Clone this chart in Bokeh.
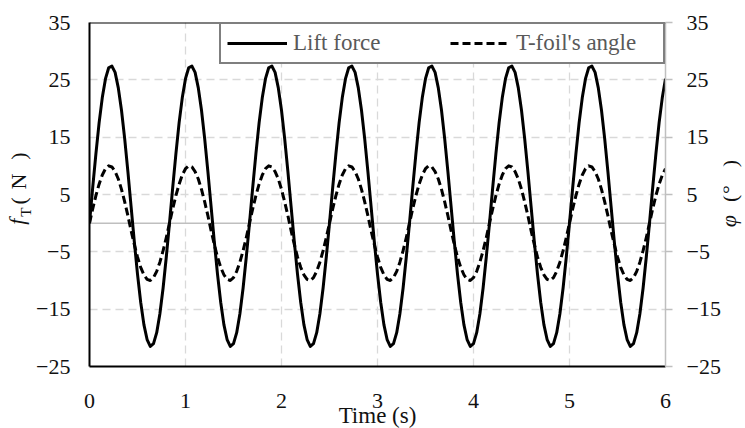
import numpy as np
from math import pi

from bokeh.plotting import figure
from bokeh.layouts import row
from bokeh.models import (Range1d, LinearAxis, FixedTicker, Span, Label,
                          Legend, LegendItem)
from bokeh.embed import file_html
from bokeh.resources import INLINE

# ---- data -------------------------------------------------------------
# sampling times (s), 1/30 s apart from 0 to 6 s
time_s = np.round(np.arange(181) / 30.0, 4)

# lift force on the T-foil (N)
lift_force = [
    0.0, 6.2, 12.1, 17.5, 21.9, 25.2, 27.1, 27.4, 26.3, 23.6, 19.7, 14.7, 9.0,
    2.9, -3.2, -8.9, -13.8, -17.7, -20.3, -21.5, -21.0, -19.1, -15.8, -11.3, -5.9,
    0.0, 6.2, 12.1, 17.5, 21.9, 25.2, 27.1, 27.4, 26.3, 23.6, 19.7, 14.7, 9.0,
    2.9, -3.2, -8.9, -13.8, -17.7, -20.3, -21.5, -21.0, -19.1, -15.8, -11.3, -5.9,
    0.0, 6.2, 12.1, 17.5, 21.9, 25.2, 27.1, 27.4, 26.3, 23.6, 19.7, 14.7, 9.0,
    2.9, -3.2, -8.9, -13.8, -17.7, -20.3, -21.5, -21.0, -19.1, -15.8, -11.3, -5.9,
    0.0, 6.2, 12.1, 17.5, 21.9, 25.2, 27.1, 27.4, 26.3, 23.6, 19.7, 14.7, 9.0,
    2.9, -3.2, -8.9, -13.8, -17.7, -20.3, -21.5, -21.0, -19.1, -15.8, -11.3, -5.9,
    0.0, 6.2, 12.1, 17.5, 21.9, 25.2, 27.1, 27.4, 26.3, 23.6, 19.7, 14.7, 9.0,
    2.9, -3.2, -8.9, -13.8, -17.7, -20.3, -21.5, -21.0, -19.1, -15.8, -11.3, -5.9,
    0.0, 6.2, 12.1, 17.5, 21.9, 25.2, 27.1, 27.4, 26.3, 23.6, 19.7, 14.7, 9.0,
    2.9, -3.2, -8.9, -13.8, -17.7, -20.3, -21.5, -21.0, -19.1, -15.8, -11.3, -5.9,
    0.0, 6.2, 12.1, 17.5, 21.9, 25.2, 27.1, 27.4, 26.3, 23.6, 19.7, 14.7, 9.0,
    2.9, -3.2, -8.9, -13.8, -17.7, -20.3, -21.5, -21.0, -19.1, -15.8, -11.3, -5.9,
    0.0, 6.2, 12.1, 17.5, 21.9, 25.2,
]

# T-foil pitch angle (deg)
tfoil_angle = [
    0.0, 2.5, 4.8, 6.8, 8.4, 9.5, 10.0, 9.8, 9.0, 7.7, 5.9, 3.7, 1.3,
    -1.3, -3.7, -5.9, -7.7, -9.0, -9.8, -10.0, -9.5, -8.4, -6.8, -4.8, -2.5,
    0.0, 2.5, 4.8, 6.8, 8.4, 9.5, 10.0, 9.8, 9.0, 7.7, 5.9, 3.7, 1.3,
    -1.3, -3.7, -5.9, -7.7, -9.0, -9.8, -10.0, -9.5, -8.4, -6.8, -4.8, -2.5,
    0.0, 2.5, 4.8, 6.8, 8.4, 9.5, 10.0, 9.8, 9.0, 7.7, 5.9, 3.7, 1.3,
    -1.3, -3.7, -5.9, -7.7, -9.0, -9.8, -10.0, -9.5, -8.4, -6.8, -4.8, -2.5,
    0.0, 2.5, 4.8, 6.8, 8.4, 9.5, 10.0, 9.8, 9.0, 7.7, 5.9, 3.7, 1.3,
    -1.3, -3.7, -5.9, -7.7, -9.0, -9.8, -10.0, -9.5, -8.4, -6.8, -4.8, -2.5,
    0.0, 2.5, 4.8, 6.8, 8.4, 9.5, 10.0, 9.8, 9.0, 7.7, 5.9, 3.7, 1.3,
    -1.3, -3.7, -5.9, -7.7, -9.0, -9.8, -10.0, -9.5, -8.4, -6.8, -4.8, -2.5,
    0.0, 2.5, 4.8, 6.8, 8.4, 9.5, 10.0, 9.8, 9.0, 7.7, 5.9, 3.7, 1.3,
    -1.3, -3.7, -5.9, -7.7, -9.0, -9.8, -10.0, -9.5, -8.4, -6.8, -4.8, -2.5,
    0.0, 2.5, 4.8, 6.8, 8.4, 9.5, 10.0, 9.8, 9.0, 7.7, 5.9, 3.7, 1.3,
    -1.3, -3.7, -5.9, -7.7, -9.0, -9.8, -10.0, -9.5, -8.4, -6.8, -4.8, -2.5,
    0.0, 2.5, 4.8, 6.8, 8.4, 9.5,
]

x_ticks = [0, 1, 2, 3, 4, 5, 6]
y_ticks = [-25, -15, -5, 5, 15, 25, 35]
y_tick_labels = ["\u221225", "\u221215", "\u22125", "5", "15", "25", "35"]

series_labels = ["Lift force", "T-foil's angle"]

FONT = "Liberation Serif"
TICK_SIZE = "22px"
TEXT_SIZE = "23px"
TEXT_COLOR = "#111111"
GRID_GREY = "#d9d9d9"
AXIS_GREY = "#bfbfbf"

# page geometry (px)
PAGE_H = 428
FRAME_W, FRAME_H = 576, 344
TOP, BOTTOM = 22, 62
LEFT_STRIP, RIGHT_STRIP = 33, 23
STRIP_LIFT = 23          # the strips' plotting area sits this much lower
Y_MIN, Y_MAX = -25, 35

# value range for the title strips, on the same vertical scale as the frame
units_per_px = (Y_MAX - Y_MIN) / FRAME_H
strip_range = (Y_MIN - (BOTTOM + STRIP_LIFT) * units_per_px,
               Y_MAX + (TOP - STRIP_LIFT) * units_per_px)

# ---- main chart -------------------------------------------------------
p = figure(title=None, frame_width=FRAME_W, frame_height=FRAME_H,
           min_border_left=89 - LEFT_STRIP, min_border_right=57,
           min_border_top=TOP, min_border_bottom=BOTTOM,
           x_range=Range1d(0, 6), y_range=Range1d(Y_MIN, Y_MAX),
           output_backend="svg", toolbar_location=None)
p.outline_line_color = None
p.background_fill_color = "white"
p.border_fill_color = "white"
p.extra_y_ranges = {"right": Range1d(Y_MIN, Y_MAX)}

# bottom axis: time
xa = p.xaxis[0]
xa.ticker = FixedTicker(ticks=x_ticks)
xa.axis_line_color = "black"
xa.axis_line_width = 2
xa.major_tick_in = 0
xa.major_tick_out = 0
xa.minor_tick_in = 0
xa.minor_tick_out = 0
xa.major_label_standoff = 27
xa.major_label_text_font = FONT
xa.major_label_text_font_size = TICK_SIZE
xa.major_label_text_color = TEXT_COLOR
xa.axis_label = "Time (s)"
xa.axis_label_text_font = FONT
xa.axis_label_text_font_style = "normal"
xa.axis_label_text_font_size = TEXT_SIZE
xa.axis_label_text_color = TEXT_COLOR
xa.axis_label_standoff = -8

# left axis: lift force
ya = p.yaxis[0]
ya.ticker = FixedTicker(ticks=y_ticks)
ya.major_label_overrides = dict(zip(y_ticks, y_tick_labels))
ya.axis_line_color = "black"
ya.axis_line_width = 2
ya.major_tick_in = 0
ya.major_tick_out = 0
ya.minor_tick_in = 0
ya.minor_tick_out = 0
ya.major_label_standoff = 19
ya.major_label_text_font = FONT
ya.major_label_text_font_size = TICK_SIZE
ya.major_label_text_color = TEXT_COLOR

# right axis: T-foil angle (same scale)
ra = LinearAxis(y_range_name="right", ticker=FixedTicker(ticks=y_ticks))
ra.major_label_overrides = dict(zip(y_ticks, y_tick_labels))
ra.axis_line_color = AXIS_GREY
ra.axis_line_width = 1.5
ra.major_tick_line_color = AXIS_GREY
ra.major_tick_line_width = 1.5
ra.major_tick_in = 0
ra.major_tick_out = 7
ra.minor_tick_in = 0
ra.minor_tick_out = 0
ra.major_label_standoff = 14
ra.major_label_text_font = FONT
ra.major_label_text_font_size = TICK_SIZE
ra.major_label_text_color = TEXT_COLOR
p.add_layout(ra, "right")

# dashed grid
p.xgrid.grid_line_color = GRID_GREY
p.xgrid.grid_line_width = 1.3
p.xgrid.grid_line_dash = "8 5"
p.ygrid.grid_line_color = GRID_GREY
p.ygrid.grid_line_width = 1.3
p.ygrid.grid_line_dash = "8 5"

# zero line and top frame line
p.add_layout(Span(location=0, dimension="width", line_color=AXIS_GREY,
                  line_width=1.5, level="underlay"))
p.add_layout(Span(location=Y_MAX, dimension="width", line_color="black",
                  line_width=2))

r_lift = p.line(time_s, lift_force, line_color="black", line_width=3,
                line_join="round")
r_angle = p.line(time_s, tfoil_angle, line_color="black", line_width=3,
                 line_dash="8 4", line_join="round")

legend = Legend(items=[LegendItem(label=series_labels[0], renderers=[r_lift]),
                       LegendItem(label=series_labels[1], renderers=[r_angle])],
                orientation="horizontal", location="top_right", margin=0,
                padding=6, spacing=16, glyph_width=60, glyph_height=20,
                label_width=141, label_standoff=6,
                label_text_font=FONT, label_text_font_size=TEXT_SIZE,
                label_text_color="#595959",
                border_line_color="black", border_line_width=2,
                background_fill_color="white", background_fill_alpha=1.0)
p.add_layout(legend, "center")


# ---- side strips for the rotated axis titles ---------------------------
def strip(width):
    s = figure(title=None, frame_width=width, frame_height=PAGE_H,
               min_border=0,
               x_range=Range1d(0, width), y_range=Range1d(*strip_range),
               x_axis_location=None, y_axis_location=None,
               output_backend="svg", toolbar_location=None)
    s.outline_line_color = None
    s.grid.visible = False
    s.background_fill_color = "white"
    s.border_fill_color = "white"
    return s


def piece(fig, text, x, y, size="22px", style="normal"):
    fig.add_layout(Label(x=x, y=y, text=text, angle=pi / 2,
                         text_align="left", text_baseline="alphabetic",
                         text_font=FONT, text_font_size=size,
                         text_font_style=style, text_color=TEXT_COLOR))


left = strip(LEFT_STRIP)
# f_T ( N )
piece(left, "f", 16, -0.44, style="italic")
piece(left, "T", 25, 0.96, size="15px")
piece(left, "(", 18, 3.1)
piece(left, "N", 18, 5.7)
piece(left, ")", 18, 10.9)

right = strip(RIGHT_STRIP)
# φ (° )
piece(right, "\u03c6", 5, -0.88, style="italic")
piece(right, "(", 6, 3.5)
piece(right, "\u00b0", 6, 4.9)
piece(right, ")", 6, 9.6)

layout = row(left, p, right)
open("out.html", "w").write(file_html(layout, INLINE))
